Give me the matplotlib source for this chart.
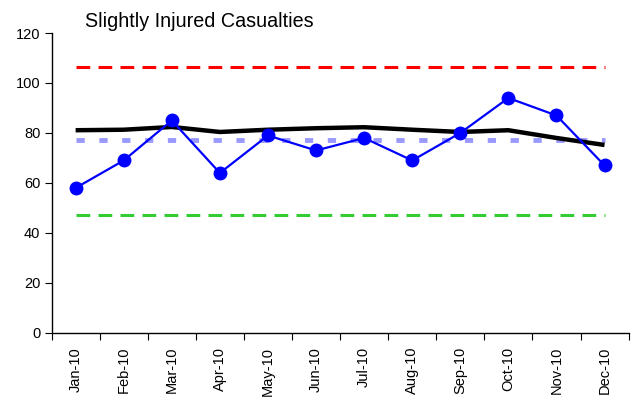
import matplotlib
matplotlib.use("Agg")
import matplotlib.pyplot as plt
import numpy as np

plt.rcParams['font.family'] = ['Liberation Sans', 'DejaVu Sans']

months = ["Jan-10", "Feb-10", "Mar-10", "Apr-10", "May-10", "Jun-10",
          "Jul-10", "Aug-10", "Sep-10", "Oct-10", "Nov-10", "Dec-10"]
casualties = [58, 69, 85, 64, 79, 73, 78, 69, 80, 94, 87, 67]
trend = [81.1, 81.3, 82.4, 80.4, 81.3, 81.9, 82.3, 81.3, 80.4, 81.1, 78.0, 75.2]
upper_limit = 106.5
lower_limit = 47.3
mean_value = 77.0
y_ticks = [0, 20, 40, 60, 80, 100, 120]
title = "Slightly Injured Casualties"

fig = plt.figure(figsize=(6.32, 4.05), dpi=100)
ax = fig.add_axes([0.0816, 0.178, 0.913, 0.7405])

x = np.arange(len(months))
n = len(months)
ax.plot(x, [upper_limit] * n, color="#FF0000", lw=2.2, dashes=(4.5, 2.7), zorder=2)
ax.plot(x, [lower_limit] * n, color="#33CC33", lw=2.2, dashes=(4.5, 2.7), zorder=2)
ax.plot(x, [mean_value] * n, color="#9999FF", lw=3.5, dashes=(1.7, 3.0), zorder=2)
ax.plot(x, trend, color="black", lw=3.2, solid_joinstyle="round", solid_capstyle="butt", zorder=3)
ax.plot(x, casualties, color="#0000FF", lw=1.6, marker="o", markersize=9,
        markerfacecolor="#0000FF", markeredgecolor="#0000FF", zorder=4)

ax.set_xlim(-0.5, n - 0.5)
ax.set_ylim(0, 120)
ax.set_yticks(y_ticks)
ax.set_yticklabels([str(v) for v in y_ticks], fontsize=10.5)
ax.set_xticks(x)
ax.set_xticklabels(months, rotation=90, fontsize=10.5)
ax.set_xticks(np.arange(-0.5, n, 1.0), minor=True)
ax.tick_params(axis="x", which="major", length=0, pad=10)
ax.tick_params(axis="x", which="minor", length=5, width=0.8, direction="out")
ax.tick_params(axis="y", length=5, width=0.8, direction="out", pad=3)

for s in ["top", "right"]:
    ax.spines[s].set_visible(False)
for s in ["left", "bottom"]:
    ax.spines[s].set_linewidth(1.0)

fig.text(0.134, 0.946, title, fontsize=14.2, ha="left", va="center")

fig.savefig("out.png", dpi=100)
